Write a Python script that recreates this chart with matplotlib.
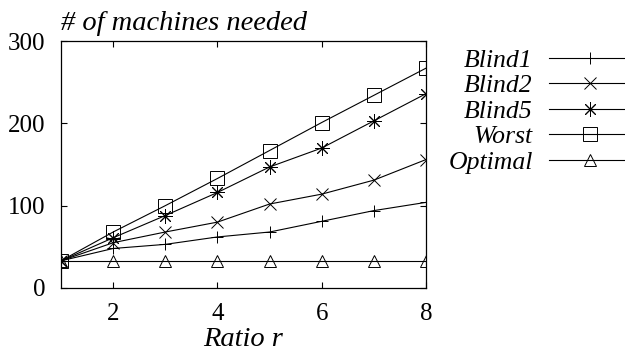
import numpy as np
import matplotlib
matplotlib.use("Agg")
import matplotlib.pyplot as plt

# Number of machines needed versus the ratio r
ratio = [1, 2, 3, 4, 5, 6, 7, 8]
blind1 = [33, 48, 53, 62, 68, 81, 94, 104]
blind2 = [33, 55, 68, 80, 102, 114, 131, 156]
blind5 = [33, 61, 88, 116, 147, 170, 203, 236]
worst = [33, 68, 100, 133, 167, 201, 234, 267]
optimal = [33, 33, 33, 33, 33, 33, 33, 33]

series = [
    ("Blind1", blind1, "+", 9),
    ("Blind2", blind2, "x", 9),
    ("Blind5", blind5, (8, 2, 0), 10.5),
    ("Worst", worst, "s", 9.5),
    ("Optimal", optimal, "^", 9),
]

plt.rcParams["font.family"] = ["Liberation Serif", "DejaVu Serif"]
plt.rcParams["font.size"] = 18

fig = plt.figure(figsize=(6.25, 3.56), dpi=100)
ax = fig.add_axes([61 / 625, 68 / 356, 365 / 625, 247 / 356])

for name, vals, mk, ms in series:
    ax.plot(ratio, vals, color="black", lw=0.8, marker=mk, ms=ms,
            mfc="none", mec="black", mew=0.7, label=name)

ax.set_xlim(1, 8)
ax.set_ylim(0, 300)
ax.set_xticks([2, 4, 6, 8])
ax.set_yticks([0, 100, 200, 300])
ax.tick_params(direction="in", length=4, width=0.8, top=True, right=True)
ax.tick_params(axis="y", pad=11)
ax.tick_params(axis="x", pad=11)
for s in ax.spines.values():
    s.set_linewidth(0.9)

ax.text(0, 1.045, "# of machines needed", transform=ax.transAxes,
        ha="left", va="baseline", style="italic", fontsize=20.5)
ax.set_xlabel("Ratio r", style="italic", fontsize=20.5, labelpad=1)

leg = ax.legend(loc="upper left", bbox_to_anchor=(1.047, 0.99), frameon=False,
                markerfirst=False, handlelength=3.2, handletextpad=0.65,
                labelspacing=0.1, borderaxespad=0, borderpad=0.2,
                fontsize=18.5)
for t in leg.get_texts():
    t.set_style("italic")
    t.set_ha("right")

fig.savefig("out.png", dpi=100)
